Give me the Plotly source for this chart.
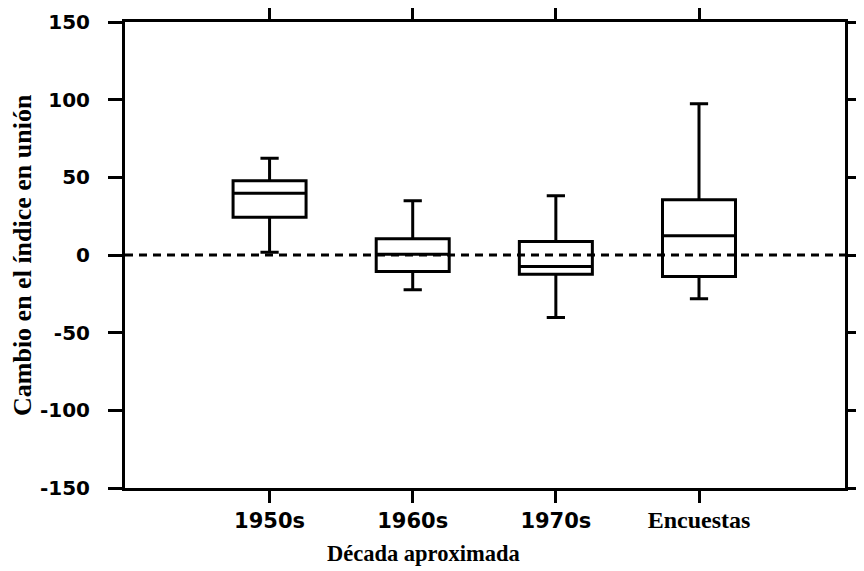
import plotly.graph_objects as go

categories = ["1950s", "1960s", "1970s", "Encuestas"]
tick_labels = ["1950s", "1960s", "1970s",
               "<span style='font-family:Liberation Serif;font-size:24px'>Encuestas</span>"]
lower_whisker = [1.8, -22.4, -40.2, -28.2]
q1_values = [24.3, -10.6, -12.4, -13.8]
median_values = [39.8, 0.5, -7.4, 12.4]
q3_values = [47.8, 10.4, 8.7, 35.5]
upper_whisker = [62.3, 34.9, 38.1, 97.4]
y_ticks = [-150, -100, -50, 0, 50, 100, 150]
y_tick_labels = ["-150", "-100", "-50", "0", "50", "100", "150"]

fig = go.Figure()
fig.add_trace(go.Box(
    x=categories,
    q1=q1_values, median=median_values, q3=q3_values,
    lowerfence=lower_whisker, upperfence=upper_whisker,
    line=dict(color="black", width=3),
    fillcolor="rgba(0,0,0,0)",
    width=0.51,
    whiskerwidth=0.25,
    boxpoints=False,
    showlegend=False,
    hoverinfo="skip",
))

fig.add_shape(type="line", xref="paper", yref="y", x0=0, x1=1, y0=0, y1=0,
              line=dict(color="black", width=3, dash="8px,6px"), layer="below")

# page body has an 8px margin, so the figure is 8px smaller and margins shifted
fig.update_layout(
    width=856, height=563,
    margin=dict(l=117, r=19, t=14, b=83, autoexpand=False),
    paper_bgcolor="white", plot_bgcolor="white",
    font=dict(family="DejaVu Sans", color="black"),
)
fig.update_xaxes(
    type="category", range=[-1.01, 4.02], automargin=False,
    tickmode="array", tickvals=categories, ticktext=tick_labels,
    showline=True, linecolor="black", linewidth=3, mirror="ticks",
    ticks="outside", ticklen=12, tickwidth=2.5, tickcolor="black",
    showgrid=False, zeroline=False,
    tickfont=dict(family="DejaVu Sans", size=21, color="black", weight="bold"),
)
fig.update_yaxes(
    range=[-150, 150], automargin=False,
    tickmode="array", tickvals=y_ticks, ticktext=y_tick_labels,
    showline=True, linecolor="black", linewidth=3, mirror="ticks",
    ticks="outside", ticklen=14, tickwidth=2.5, tickcolor="black",
    showgrid=False, zeroline=False, ticklabelstandoff=14,
    tickfont=dict(family="DejaVu Sans", size=20, color="black", weight="bold"),
)

fig.add_annotation(text="Década aproximada", xref="paper", yref="paper",
                   x=(423 - 125) / 720, y=(488 - 553) / 466, xanchor="center", yanchor="middle",
                   showarrow=False,
                   font=dict(family="Liberation Serif", size=22.5, color="black", weight="bold"))
fig.add_annotation(text="Cambio en el índice en unión", xref="paper", yref="paper",
                   x=(22 - 125) / 720, y=(488 - 255) / 466, xanchor="center", yanchor="middle",
                   textangle=-90, showarrow=False,
                   font=dict(family="Liberation Serif", size=26, color="black", weight="bold"))

fig.write_html("out.html")
